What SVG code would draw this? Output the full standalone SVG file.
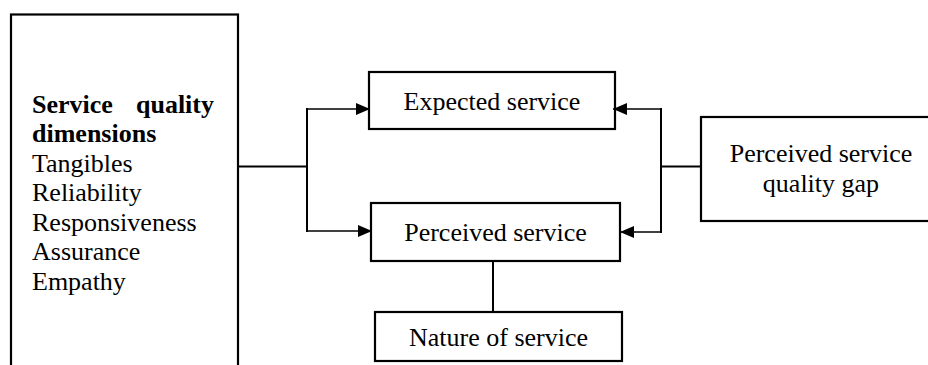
<svg xmlns="http://www.w3.org/2000/svg" width="928" height="365" viewBox="0 0 928 365">
<style>
  .box { fill: #fff; stroke: #000; stroke-width: 2.2; }
  .t { font-size: 26px; fill: #000; }
  .c { text-anchor: middle; }
  .b { font-weight: bold; }
  .ln { fill: none; stroke: #000; stroke-width: 2; }
  .ar { fill: none; stroke: #000; stroke-width: 1.3; }
</style>
<defs>
  <marker id="ah" viewBox="0 0 14 12" refX="14" refY="6" markerWidth="14" markerHeight="12" markerUnits="userSpaceOnUse" orient="auto">
    <path d="M0,0 L14,6 L0,12 Z" fill="#000"/>
  </marker>
</defs>
<rect width="928" height="365" fill="#fff"/>
<g font-family="'Liberation Serif', 'Times New Roman', 'DejaVu Serif', serif">
<g id="dimensions">
  <rect class="box" x="11" y="14.5" width="227" height="370"/>
  <text class="t b" x="32" y="112.5">Service</text>
  <text class="t b" x="214" y="112.5" text-anchor="end">quality</text>
  <text class="t b" x="32" y="142">dimensions</text>
  <text class="t" x="32" y="171.5">Tangibles</text>
  <text class="t" x="32" y="201">Reliability</text>
  <text class="t" x="32" y="230.5">Responsiveness</text>
  <text class="t" x="32" y="260">Assurance</text>
  <text class="t" x="32" y="289.5">Empathy</text>
</g>
<g id="expected">
  <rect class="box" x="369" y="72" width="246" height="57"/>
  <text class="t c" x="492" y="110">Expected service</text>
</g>
<g id="perceived">
  <rect class="box" x="371" y="203" width="249" height="58"/>
  <text class="t c" x="495.5" y="240.5">Perceived service</text>
</g>
<g id="nature">
  <rect class="box" x="375" y="312" width="247" height="49"/>
  <text class="t c" x="498.5" y="346">Nature of service</text>
</g>
<g id="gap">
  <rect class="box" x="701" y="117" width="240" height="104"/>
  <text class="t c" x="821" y="162">Perceived service</text>
  <text class="t c" x="821" y="192">quality gap</text>
</g>
</g>
<g id="connectors">
  <path class="ln" d="M238,166.5 H307 M307,108 V232"/>
  <path class="ar" d="M307,109 H370" marker-end="url(#ah)"/>
  <path class="ar" d="M307,231 H372" marker-end="url(#ah)"/>
  <path class="ln" d="M701,166.5 H661 M661,108 V233"/>
  <path class="ar" d="M661,109 H613" marker-end="url(#ah)"/>
  <path class="ar" d="M661,232 H620" marker-end="url(#ah)"/>
  <path class="ln" d="M493,261 V312"/>
</g>
</svg>
